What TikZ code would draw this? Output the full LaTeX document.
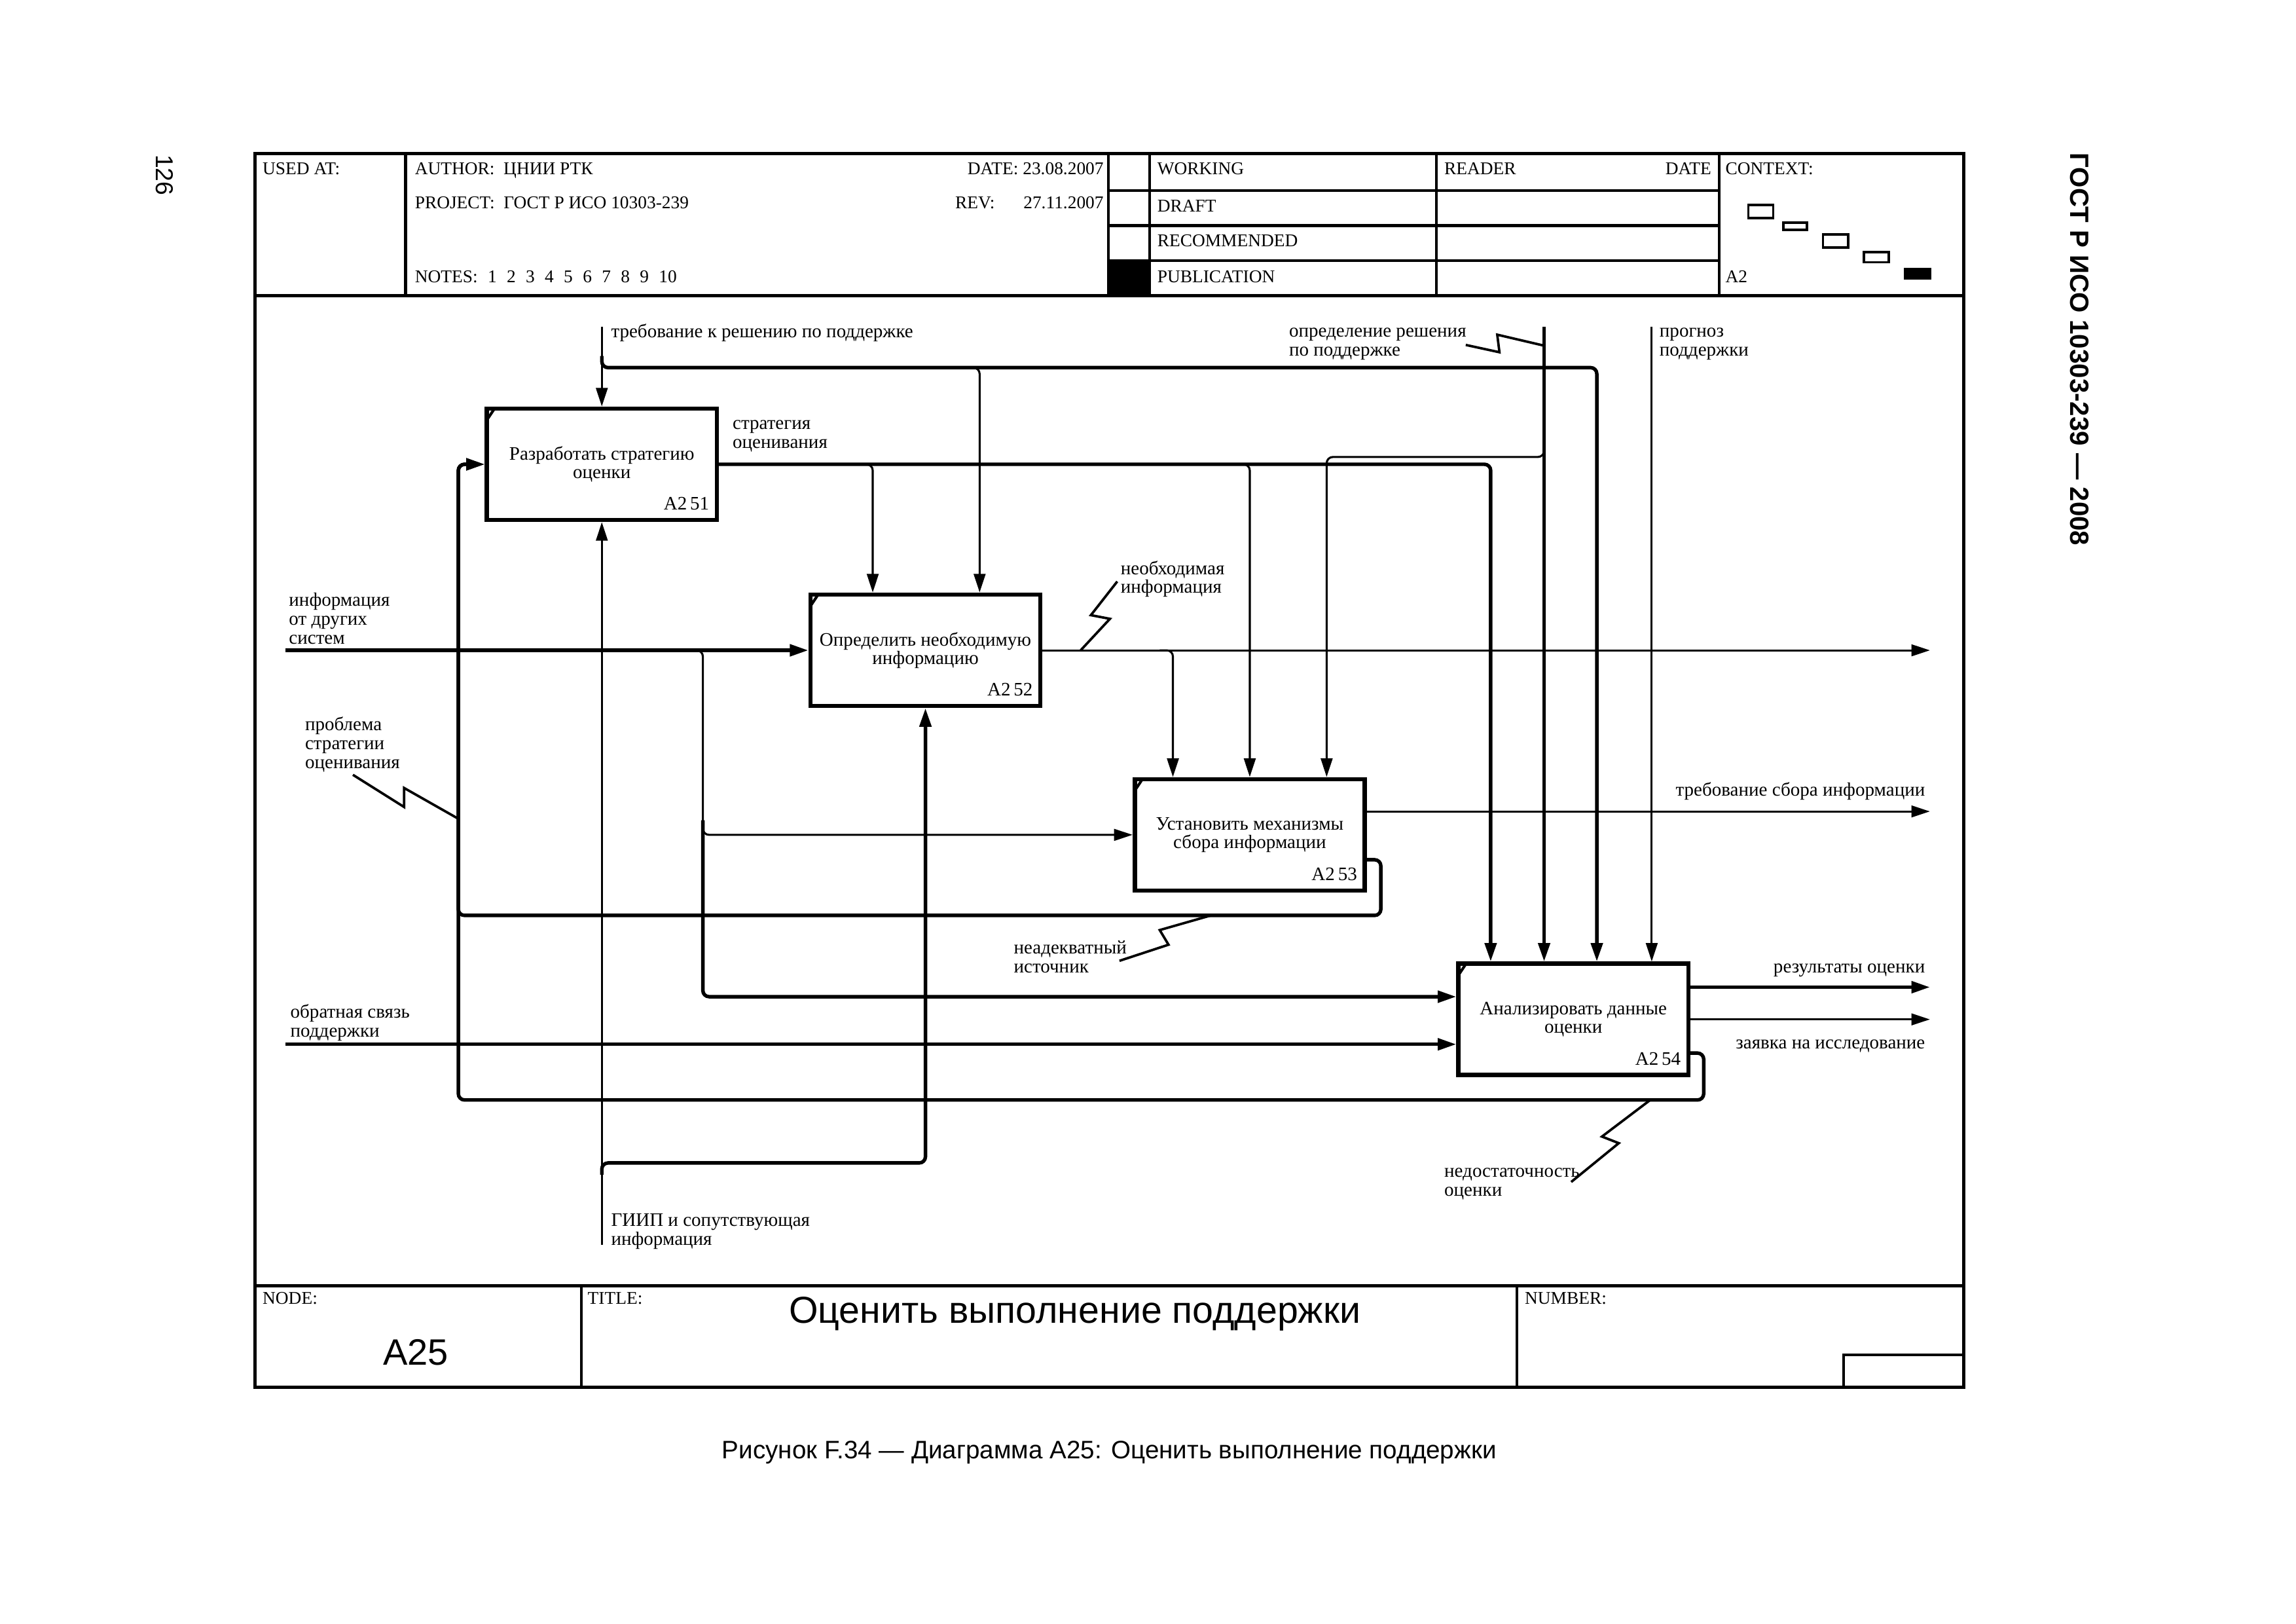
\documentclass[tikz,border=0pt]{standalone}
\usepackage{fontspec}
\setmainfont{Liberation Serif}
\newfontfamily\sansfont{Liberation Sans}
\usetikzlibrary{arrows.meta,calc}

\newcommand{\notegap}{\hspace{3.7pt}}

\begin{document}
\begin{tikzpicture}[x=0.18941mm, y=-0.18941mm,
    activity/.style={draw, line width=1.6pt, minimum width=29.74mm, minimum height=14.4mm,
        inner sep=0pt, align=center, font=\fontsize{7}{6.9}\selectfont},
    boxno/.style={anchor=south east, inner xsep=1.2mm, inner ysep=1.5mm, font=\fontsize{7}{7}\selectfont},
    lbl/.style={inner sep=0pt, align=left, anchor=base west, font=\fontsize{7}{6.9}\selectfont},
    hdr/.style={inner sep=0pt, anchor=base west, font=\fontsize{6.6}{7}\selectfont},
    frameline/.style={line width=1pt},
    arr/.style={line width=0.75pt, rounded corners=0.8mm, -{Triangle[length=2.4mm, width=1.5mm]}},
    heavy/.style={line width=1.3pt},
    squig/.style={line width=0.9pt}]

  \useasboundingbox (0,0) rectangle (1568,1108.4);
  \fill[white] (0,0) rectangle (1568,1108.4);

  % frame and header
  \draw[line width=1.2pt] (174,105) rectangle (1341,947);
  \draw[line width=1.2pt] (174,202) -- (1341,202);
  \draw[line width=1.2pt] (174,878) -- (1341,878);
  \foreach \c in {277,757,785,981,1174}
    \draw[frameline] (\c,105) -- (\c,202);
  \foreach \r in {130,154,178}
    \draw[frameline] (757,\r) -- (1174,\r);
  \fill (757,178) rectangle (785,202);
  \draw[frameline] (397,878) -- (397,947);
  \draw[frameline] (1036,878) -- (1036,947);
  \draw[frameline] (1259,947) |- (1341,925);

  \node[hdr] (usedat) at (179,119) {USED AT:};
  \node[hdr] (author) at (283,119) {AUTHOR:\ \ ЦНИИ РТК};
  \node[hdr] (project) at (283,142.5) {PROJECT:\ \ ГОСТ Р ИСО 10303-239};
  \node[hdr, anchor=base east] (date) at (754,119) {DATE:\ 23.08.2007};
  \node[hdr] (rev) at (652,142.5) {REV:};
  \node[hdr, anchor=base east] (revdate) at (754,142.5) {27.11.2007};
  \node[hdr] (notes) at (283,193) {NOTES:\notegap 1\notegap 2\notegap 3\notegap 4\notegap 5\notegap 6\notegap 7\notegap 8\notegap 9\notegap 10};
  \node[hdr] (working) at (790,119) {WORKING};
  \node[hdr] (draft) at (790,144.5) {DRAFT};
  \node[hdr] (recommended) at (790,168.5) {RECOMMENDED};
  \node[hdr] (publication) at (790,193) {PUBLICATION};
  \node[hdr] (reader) at (986,119) {READER};
  \node[hdr, anchor=base east] (readerdate) at (1169,119) {DATE};
  \node[hdr] (context) at (1178,119) {CONTEXT:};
  \node[hdr] (contextno) at (1178,193) {A2};

  % context boxes
  \draw[line width=0.9pt] (1194,140) rectangle (1211,149);
  \draw[line width=0.9pt] (1218,152) rectangle (1234,157);
  \draw[line width=0.9pt] (1245,160) rectangle (1262,169);
  \draw[line width=0.9pt] (1273,172) rectangle (1290,179);
  \fill (1300,183) rectangle (1319,191);

  % activities
  \node[activity, label={[boxno]south east:A2\,51}] (A251) at (411,317) {Разработать стратегию\\оценки};
  \node[activity, label={[boxno]south east:A2\,52}] (A252) at (632,444) {Определить необходимую\\информацию};
  \node[activity, label={[boxno]south east:A2\,53}] (A253) at (853.5,570) {Установить механизмы\\сбора информации};
  \node[activity, label={[boxno]south east:A2\,54}] (A254) at (1074.5,696) {Анализировать данные\\оценки};
  \foreach \b in {A251,A252,A253,A254}
    \draw[line width=1pt] ($(\b.north west)+(1,10)$) -- ($(\b.north west)+(7,1)$);

  % free ends and turns
  \coordinate (reqin) at (411,223);
  \coordinate (reqfork) at (411,243);
  \coordinate (reqturn) at (1090.5,251);
  \coordinate (reqfork2) at (661,251);
  \coordinate (decin) at (1054.5,223);
  \coordinate (decfork) at (1054.5,304);
  \coordinate (decturn) at (906,312);
  \coordinate (fcin) at (1128,223);
  \coordinate (stratturn) at (1018,317);
  \coordinate (stratfork1) at (588,317);
  \coordinate (stratfork2) at (845,317);
  \coordinate (infoin) at (195,444);
  \coordinate (infofork) at (472,444);
  \coordinate (infoturn) at (480,570);
  \coordinate (infofork2) at (480,560);
  \coordinate (needout) at (1318,444);
  \coordinate (needfork) at (792,444);
  \coordinate (collectout) at (1318,554);
  \coordinate (loopa) at (943,625);
  \coordinate (loopb) at (1163.5,751);
  \coordinate (fbleft) at (313,625);
  \coordinate (fbbottom) at (313,751);
  \coordinate (resout) at (1318,674);
  \coordinate (studyout) at (1318,696);
  \coordinate (fbin) at (195,713);
  \coordinate (mechin) at (411,850);
  \coordinate (mechfork) at (411,802);
  \coordinate (mechturn) at (632,794);

  % controls
  \draw[arr] (reqin) -- (A251.north);
  \draw[arr, heavy] (reqfork) |- (reqturn) -- (reqturn |- A254.north);
  \draw[arr] (reqfork2) -| ($(A252.north)+(37,0)$);
  \draw[arr, heavy] (decin) -- (decin |- A254.north);
  \draw[arr] (decfork) |- (decturn) -- (decturn |- A253.north);
  \draw[arr] (fcin) -- (fcin |- A254.north);
  \draw[arr, heavy] (A251.east) -- (stratturn) -- (stratturn |- A254.north);
  \draw[arr] (stratfork1) -| ($(A252.north)+(-36,0)$);
  \draw[arr] (stratfork2) -| (A253.north);
  \draw[arr] (needfork) -| ($(A253.north)+(-52.5,0)$);

  % inputs and outputs
  \draw[arr, heavy] (infoin) -- (A252.west);
  \draw[arr] (infofork) -| (infoturn) -- (A253.west);
  \draw[arr, heavy] (infofork2) |- ($(A254.west)+(0,-15.5)$);
  \draw[arr] (A252.east) -- (needout);
  \draw[arr] ($(A253.east)+(0,-16)$) -- (collectout);
  \draw[arr, heavy] ($(A254.east)+(0,-22)$) -- (resout);
  \draw[arr] (A254.east) -- (studyout);
  \draw[arr, heavy] (fbin) -- ($(A254.west)+(0,17)$);

  % feedback
  \draw[arr, heavy] ($(A253.east)+(0,17)$) -| (loopa) -- (fbleft) |- (A251.west);
  \draw[arr, heavy] ($(A254.east)+(0,23)$) -| (loopb) -- (fbbottom) |- (A251.west);

  % mechanisms
  \draw[arr] (mechin) -- (A251.south);
  \draw[arr, heavy] (mechfork) |- (mechturn) -- (A252.south);

  % labels
  \node[lbl] (reqlbl) at (417,230.5) {требование к решению по поддержке};
  \node[lbl] (declbl) at (880,243) {определение решения\\по поддержке};
  \node[lbl] (fclbl) at (1133,243) {прогноз\\поддержки};
  \node[lbl] (stratlbl) at (500,306) {стратегия\\оценивания};
  \node[lbl] (needlbl) at (765,405) {необходимая\\информация};
  \node[lbl] (infolbl) at (197,439.5) {информация\\от других\\систем};
  \node[lbl] (problbl) at (208,524.5) {проблема\\стратегии\\оценивания};
  \node[lbl, anchor=base east] (collectlbl) at (1315,543.5) {требование сбора информации};
  \node[lbl] (inadlbl) at (692,664) {неадекватный\\источник};
  \node[lbl, anchor=base east] (reslbl) at (1315,664) {результаты оценки};
  \node[lbl, anchor=base east] (studylbl) at (1315,716) {заявка на исследование};
  \node[lbl] (fblbl) at (198,708) {обратная связь\\поддержки};
  \node[lbl] (mechlbl) at (417,850) {ГИИП и сопутствующая\\информация};
  \node[lbl] (insuflbl) at (986,816.5) {недостаточность\\оценки};

  % squiggles
  \draw[squig] (1001,235.5) -- (1024,240.5) -- (1022.5,228.5) -- (1054.5,236);
  \draw[squig] (763,397) -- (745,420) -- (758,422.5) -- (738,444);
  \draw[squig] (241,529) -- (276,551) -- (276,538) -- (313,559);
  \draw[squig] (764.5,656) -- (798,645) -- (792,635) -- (827,625);
  \draw[squig] (1073,807) -- (1105.5,780.5) -- (1094,776) -- (1127,751);

  % title block
  \node[hdr] (nodelbl) at (179,890.5) {NODE:};
  \node[hdr] (titlelbl) at (401,890.5) {TITLE:};
  \node[hdr] (numberlbl) at (1041,890.5) {NUMBER:};
  \node[inner sep=0pt, anchor=base, font=\sansfont\fontsize{13.5}{13.5}\selectfont] (nodeno) at (284,932) {A25};
  \node[inner sep=0pt, anchor=base, font=\sansfont\fontsize{13.8}{13.8}\selectfont] (title) at (734,903.5) {Оценить выполнение поддержки};

  % page
  \node[inner sep=0pt, anchor=base, font=\sansfont\fontsize{9.3}{9.3}\selectfont] (caption) at (757.5,996) {Рисунок F.34 — Диаграмма А25: Оценить выполнение поддержки};
  \node[inner sep=0pt, rotate=-90, font=\sansfont\bfseries\fontsize{9.7}{9.7}\selectfont] (gost) at (1420,238.5) {ГОСТ Р ИСО 10303-239 — 2008};
  \node[inner sep=0pt, rotate=-90, font=\sansfont\fontsize{9}{9}\selectfont] (pageno) at (112.5,119.5) {126};
\end{tikzpicture}
\end{document}
